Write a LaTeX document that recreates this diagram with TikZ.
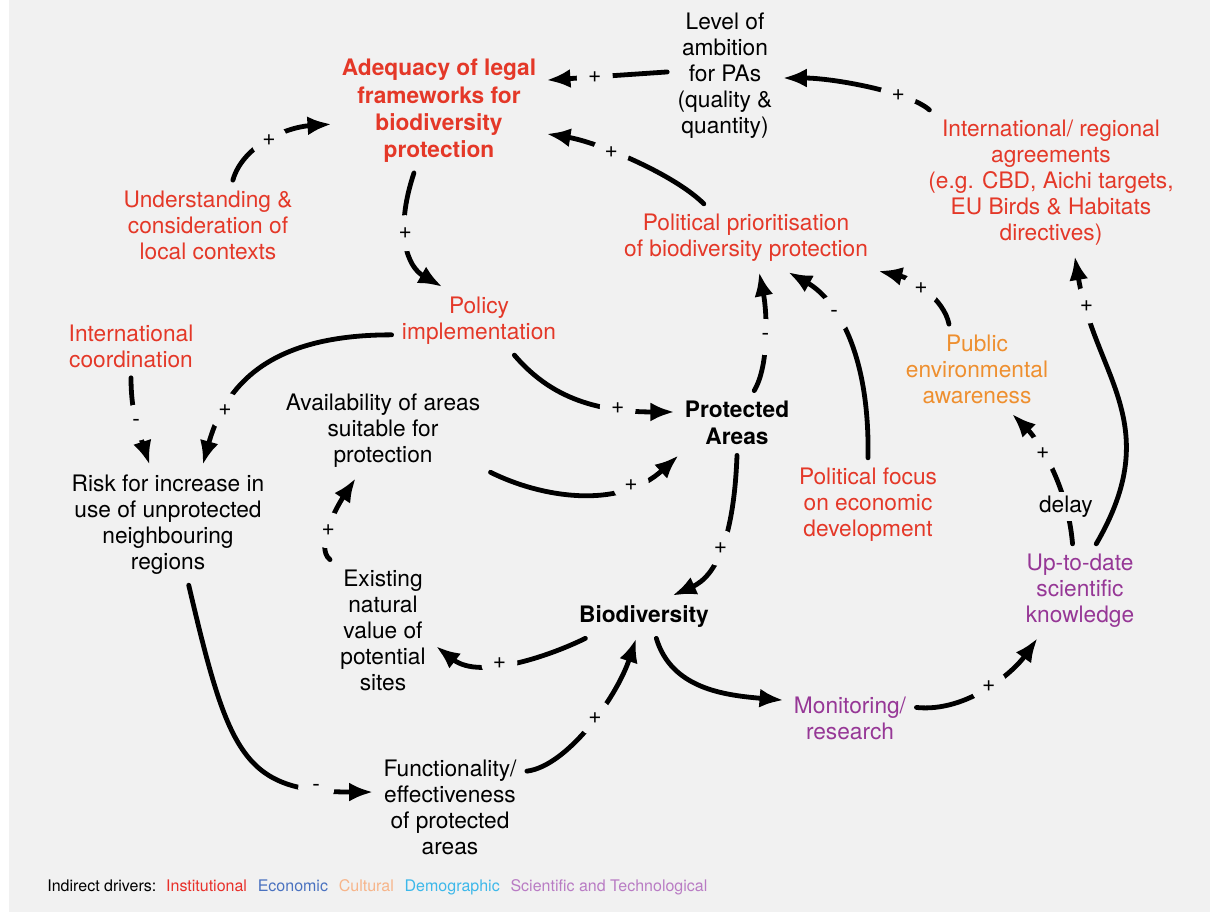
\documentclass[tikz,border=0pt]{standalone}
\usepackage{fontspec}
\setmainfont{TeX Gyre Heros}
\usepackage{xcolor}
\usetikzlibrary{arrows.meta,positioning}

\definecolor{bgcol}{RGB}{241,241,241}
\definecolor{instred}{RGB}{228,56,40}
\definecolor{cultorange}{RGB}{238,143,47}
\definecolor{scipurple}{RGB}{150,55,150}
\definecolor{lgdred}{RGB}{232,48,42}
\definecolor{lgdblue}{RGB}{74,114,192}
\definecolor{lgdorange}{RGB}{247,181,138}
\definecolor{lgdcyan}{RGB}{61,184,234}
\definecolor{lgdlilac}{RGB}{185,124,196}

\begin{document}
\begin{tikzpicture}[
  x=0.5pt, y=-0.5pt,
  font=\fontsize{11.35}{13}\selectfont,
  var/.style={align=center, inner sep=5pt},
  key/.style={var, font=\fontsize{11.35}{13.6}\selectfont\bfseries},
  arr/.style={-{Latex[length=12pt,width=9.5pt]}, line width=2.4pt, line cap=round},
  sgn/.style={circle, fill=bgcol, inner sep=0pt, minimum size=18pt},
  tag/.style={fill=bgcol, inner sep=2pt},
  lgd/.style={inner sep=0pt, font=\fontsize{8}{9.6}\selectfont}
]
\useasboundingbox (0,0) rectangle (1210,913);
\fill[white] (0,0) rectangle (1210,913);
\fill[bgcol] (9,0) rectangle (1210,912);

% variables
\node[var] (lev) at (725,76) {Level of\\ambition\\for PAs\\(quality \&\\quantity)};
\node[key, text=instred] (adq) at (439,111) {Adequacy of legal\\frameworks for\\biodiversity\\protection};
\node[var, text=instred] (und) at (208,225) {Understanding \&\\consideration of\\local contexts};
\node[var, text=instred] (pol) at (746,238) {Political prioritisation\\of biodiversity protection};
\node[var, text=instred] (agr) at (1051,183) {International/ regional\\agreements\\(e.g. CBD, Aichi targets,\\EU Birds \& Habitats\\directives)};
\node[var, text=instred] (imp) at (479,321) {Policy\\implementation};
\node[var, text=instred] (ico) at (131,346) {International\\coordination};
\node[var, text=cultorange] (pub) at (977,369) {Public\\environmental\\awareness};
\node[var] (ava) at (383,431) {Availability of areas\\suitable for\\protection};
\node[key] (pa) at (737,423) {Protected\\Areas};
\node[var] (risk) at (168,525) {Risk for increase in\\use of unprotected\\neighbouring\\regions};
\node[var, text=instred] (foc) at (868,505) {Political focus\\on economic\\development};
\node[var, text=scipurple] (sci) at (1080,591) {Up-to-date\\scientific\\knowledge};
\node[var] (exi) at (383,630) {Existing\\natural\\value of\\potential\\sites};
\node[key] (bio) at (644,617) {Biodiversity};
\node[var, text=scipurple] (mon) at (850,718) {Monitoring/\\research};
\node[var] (fun) at (450,807) {Functionality/\\effectiveness\\of protected\\areas};

% links
\draw[arr] (lev.176) -- node[sgn, pos=.6]{+} (adq.16);
\draw[arr] (agr.149) .. controls +(-20,-18) and +(50,0) .. node[sgn, pos=.3]{+} (lev.-2);
\draw[arr] (pol.141) .. controls +(-30,-30) and +(50,8) .. node[sgn, pos=.62]{+} (adq.-12);
\draw[arr] (und.61) .. controls +(10,-35) and +(-45,3) .. node[sgn, pos=.5]{+} (adq.187);
\draw[arr] (adq.248) .. controls +(-20,60) and +(-35,-20) .. node[sgn, pos=.4]{+} (imp.137);
\draw[arr] (imp.189) .. controls +(-110,0) and +(25,-90) .. node[sgn, pos=.77]{+} (risk.60);
\draw[arr] (ico.south) .. controls +(0,40) and +(-8,-25) .. node[sgn, pos=.45]{-} (risk.107);
\draw[arr] (imp.-44) .. controls +(30,35) and +(-90,0) .. node[sgn, pos=.76]{+} (pa.170);
\draw[arr] (ava.-21) .. controls +(50,25) and +(-60,55) .. node[sgn, pos=.75]{+} (pa.209);
\draw[arr] (exi.127) .. controls +(-15,-12) and +(-20,30) .. node[sgn, pos=.45]{+} (ava.240);
\draw[arr] (pa.south) .. controls +(-3,80) and +(45,-20) .. node[sgn, pos=.5]{+} (bio.37);
\draw[arr] (bio.200) .. controls +(-30,15) and +(45,35) .. node[sgn, pos=.6]{+} (exi.-17);
\draw[arr] (fun.25) .. controls +(40,-5) and +(-20,60) .. node[sgn, pos=.55]{+} (bio.250);
\draw[arr] (bio.-60) .. controls +(15,50) and +(-60,-5) .. (mon.165);
\draw[arr] (mon.9) .. controls +(50,5) and +(-25,35) .. node[sgn, pos=.52]{+} (sci.228);
\draw[arr] (risk.-71) .. controls +(40,170) and +(-130,0) .. node[sgn, pos=.83]{-} (fun.169);
\draw[arr] (sci.71) .. controls +(70,-120) and +(20,120) .. node[sgn, pos=.85]{+} (agr.-72);
\draw[arr] (sci.99) .. controls +(-5,-60) and +(25,25) .. node[tag, pos=.22]{delay} node[sgn, pos=.6]{+} (pub.-52);
\draw[arr] (pub.122) .. controls +(-5,-25) and +(35,8) .. node[sgn, pos=.55]{+} (pol.-14);
\draw[arr] (foc.north) .. controls +(2,-110) and +(45,25) .. node[sgn, pos=.62]{-} (pol.-39);
\draw[arr] (pa.62) .. controls +(15,-25) and +(8,40) .. node[sgn, pos=.5]{-} (pol.-69);

% legend
\node[lgd, anchor=base west] (drv) at (47,891) {Indirect drivers:};
\node[lgd, text=lgdred, base right=4.5pt of drv] (ins) {Institutional};
\node[lgd, text=lgdblue, base right=5pt of ins] (eco) {Economic};
\node[lgd, text=lgdorange, base right=5pt of eco] (cul) {Cultural};
\node[lgd, text=lgdcyan, base right=5pt of cul] (dem) {Demographic};
\node[lgd, text=lgdlilac, base right=5pt of dem] (sat) {Scientific and Technological};
\end{tikzpicture}
\end{document}
